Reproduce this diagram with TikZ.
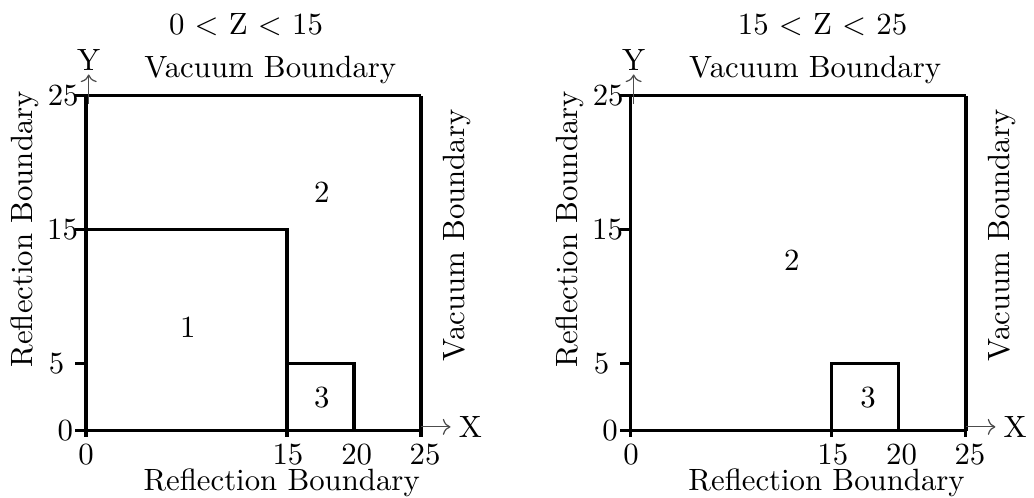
\documentclass[tikz,border=0pt]{standalone}
\usepackage{tikz}
\usetikzlibrary{arrows.meta, positioning}

\begin{document}
\begin{tikzpicture}[
    x=0.153cm, y=0.153cm,
    bnd/.style={line width=1pt},
    edge/.style={line width=1.3pt},
    axarr/.style={->, thin, black!70},
    lbl/.style={inner sep=1pt, font=\normalsize},
    side/.style={rotate=90, inner sep=0pt}
  ]
  \useasboundingbox (-6.42,-5) rectangle (70.75,32.16);

  % both panels: frame, ticks, axes, boundary texts
  \foreach \p/\dx/\tx/\ttl in {L/0/11.94/{0 $<$ Z $<$ 15}, R/40.67/14.3/{15 $<$ Z $<$ 25}} {
    \begin{scope}[shift={(\dx,0)}]
      \coordinate (o\p) at (0,0);
      \coordinate (tr\p) at (25,25);
      \coordinate (br\p) at (25,0);
      \coordinate (tl\p) at (0,25);
      \draw[bnd] (o\p) -- (br\p) (tl\p) -- (tr\p) (o\p) -- (tl\p);
      \draw[edge] (br\p) -- (tr\p);
      % ticks
      \foreach \y/\lx in {0/-1.55, 5/-2.2, 15/-1.75, 25/-1.7} {
        \draw[bnd] (-0.8,\y) -- (0,\y);
        \node[lbl] (yl\p\y) at (\lx,\y) {\y};
      }
      \foreach \x in {0,15,25}
        \draw[bnd] (\x,0) -- (\x,-0.45);
      \foreach \x/\lx in {0/0, 15/15.07, 20/20.2, 25/25.3}
        \node[lbl] (xl\p\x) at (\lx,-1.8) {\x};
      % axes
      \coordinate (xa\p) at (25,0.3);
      \coordinate (xe\p) at (27.2,0.3);
      \draw[axarr] (xa\p) -- (xe\p);
      \node[right=1.5pt of xe\p, inner sep=1pt] (X\p) {X};
      \coordinate (ya\p) at (0.2,24.4);
      \coordinate (ye\p) at (0.2,26.6);
      \draw[axarr] (ya\p) -- (ye\p);
      \node[above=0pt of ye\p, inner sep=1pt] (Y\p) {Y};
      % labels
      \node (ttl\p) at (\tx,30.3) {\ttl};
      \node (vt\p) at (13.75,26.9) {Vacuum Boundary};
      \node (rb\p) at (14.6,-3.85) {Reflection Boundary};
      \node[side] (rl\p) at (-4.55,15.05) {Reflection Boundary};
      \node[side] (vr\p) at (27.7,14.6) {Vacuum Boundary};
    \end{scope}
  }

  % left regions
  \draw[bnd] (0,15) -- (15,15) -- (15,0);
  \draw[bnd] (15,5) -- (20,5) -- (20,0);
  \node (r1) at (7.6,7.7) {1};
  \node (r2L) at (17.6,17.8) {2};
  \node (r3L) at (17.6,2.46) {3};

  % right regions
  \begin{scope}[shift={(40.67,0)}]
    \draw[bnd] (15,0) -- (15,5) -- (20,5) -- (20,0);
    \node (r2R) at (12,12.76) {2};
    \node (r3R) at (17.7,2.46) {3};
  \end{scope}
\end{tikzpicture}
\end{document}
